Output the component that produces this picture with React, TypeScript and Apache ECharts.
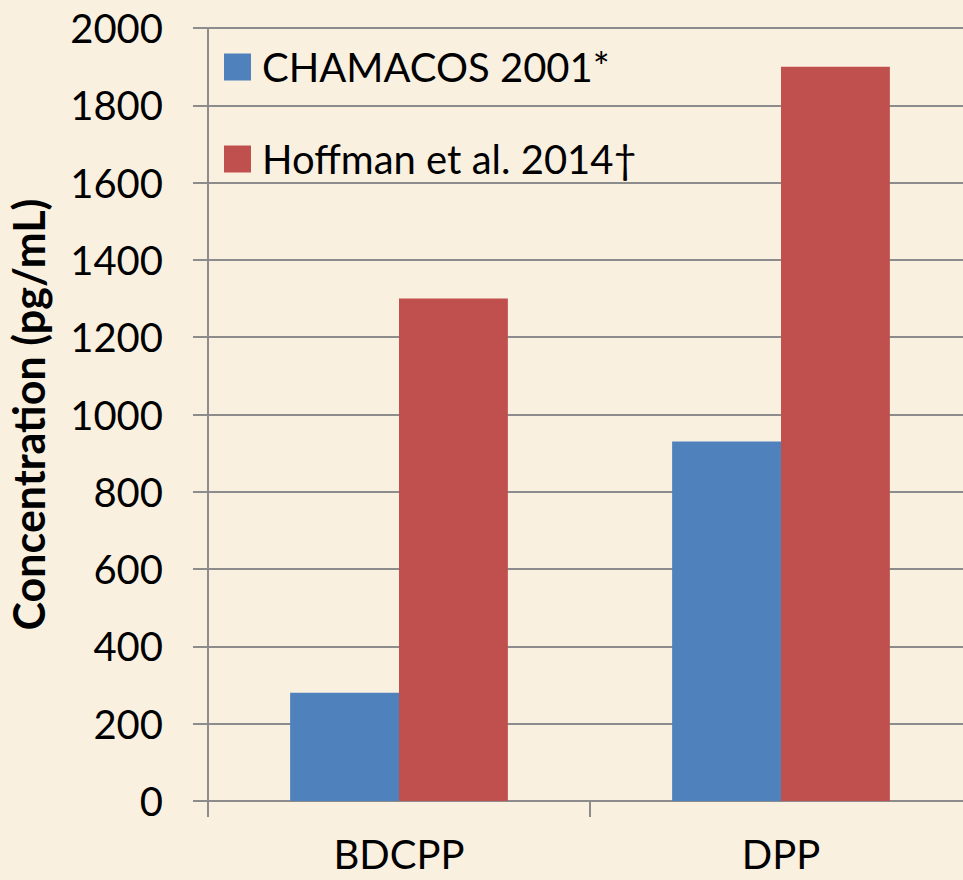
import React, { useEffect, useRef } from "react";
import * as echarts from "echarts";

const categories = ["BDCPP", "DPP"];
const seriesNames = ["CHAMACOS 2001*", "Hoffman et al. 2014†"];
const chamacosValues = [280, 930];
const hoffmanValues = [1300, 1900];
const yTicks = { min: 0, max: 2000, interval: 200 };

const FONT = "Lato, 'Noto Sans', sans-serif";
const GRID_GRAY = "#8c8c8c";

export default function App() {
  const ref = useRef<HTMLDivElement>(null);
  useEffect(() => {
    if (!ref.current) return;
    const chart = echarts.init(ref.current, undefined, { renderer: "svg" });
    chart.setOption({
      animation: false,
      backgroundColor: "#FAF0E0",
      textStyle: { fontFamily: FONT },
      grid: {
        left: 208,
        top: 28,
        width: 764,
        height: 773,
        outerBoundsMode: "none",
        containLabel: false,
      },
      legend: {
        orient: "vertical",
        left: 219,
        top: 36,
        itemWidth: 27,
        itemHeight: 27,
        itemGap: 40,
        icon: "rect",
        textStyle: {
          fontSize: 40,
          fontFamily: FONT,
          color: "#000",
          lineHeight: 52,
          padding: [0, 0, 0, 6],
        },
        data: seriesNames,
      },
      xAxis: {
        type: "category",
        data: categories,
        axisLine: { lineStyle: { color: GRID_GRAY, width: 2 } },
        axisTick: { show: true, length: 16, lineStyle: { color: GRID_GRAY, width: 2 } },
        axisLabel: {
          fontSize: 40,
          lineHeight: 40,
          color: "#000",
          margin: 33,
          fontFamily: FONT,
        },
      },
      yAxis: {
        type: "value",
        min: yTicks.min,
        max: yTicks.max,
        interval: yTicks.interval,
        name: "Concentration (pg/mL)",
        nameLocation: "middle",
        nameGap: 158,
        nameTextStyle: { fontSize: 43, fontWeight: "bold", color: "#000", fontFamily: FONT },
        axisLine: { show: true, lineStyle: { color: GRID_GRAY, width: 2 } },
        axisTick: { show: true, length: 15, lineStyle: { color: GRID_GRAY, width: 2 } },
        axisLabel: {
          fontSize: 40,
          color: "#000",
          margin: 45,
          fontFamily: FONT,
          formatter: (v: number) => String(v),
        },
        splitLine: { show: true, lineStyle: { color: GRID_GRAY, width: 2 } },
      },
      series: [
        {
          name: seriesNames[0],
          type: "bar",
          data: chamacosValues,
          itemStyle: { color: "#4F81BD" },
          barGap: "0%",
          barCategoryGap: "43%",
        },
        {
          name: seriesNames[1],
          type: "bar",
          data: hoffmanValues,
          itemStyle: { color: "#C0504D" },
          barGap: "0%",
          barCategoryGap: "43%",
        },
      ],
    });
    return () => chart.dispose();
  }, []);
  return (
    <div
      ref={ref}
      style={{ position: "fixed", left: 0, top: 0, width: 963, height: 880 }}
    />
  );
}
